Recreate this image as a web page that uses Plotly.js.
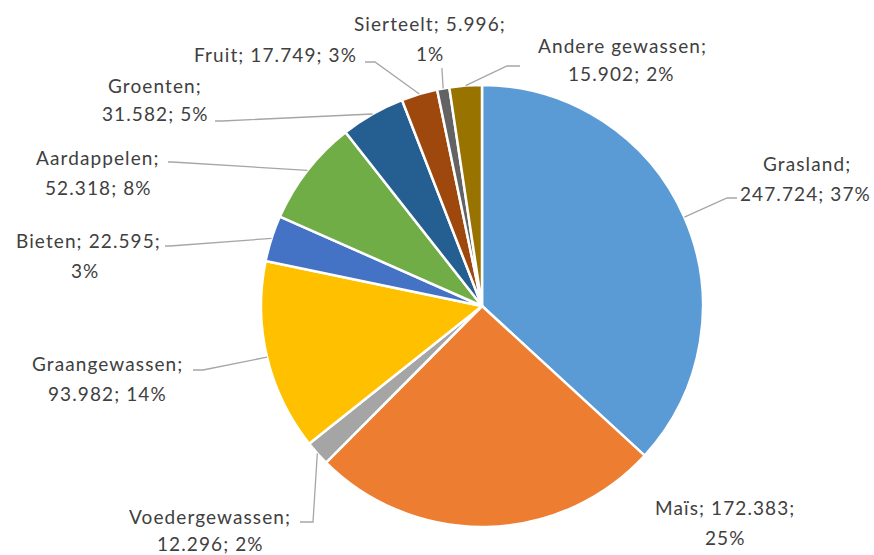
<!DOCTYPE html>
<html>
<head>
<meta charset="utf-8">
<script src="https://cdn.plot.ly/plotly-3.0.1.min.js"></script>
<style>html,body{margin:0;padding:0;background:#fff;}#chart{width:874px;height:555px;}
.annotation-text{letter-spacing:1.1px;}</style>
</head>
<body>
<div id="chart"></div>
<script>
// ---- data ----
var categories = ["Grasland", "Maïs", "Voedergewassen", "Graangewassen", "Bieten", "Aardappelen", "Groenten", "Fruit", "Sierteelt", "Andere gewassen"];
var areas = [247724, 172383, 12296, 93982, 22595, 52318, 31582, 17749, 5996, 15902];
var percentLabels = ["37%", "25%", "2%", "14%", "3%", "8%", "5%", "3%", "1%", "2%"];
var colors = ["#5B9BD5", "#ED7D31", "#A5A5A5", "#FFC000", "#4472C4", "#70AD47", "#255E91", "#9E480E", "#636363", "#997300"];

// ---- layout of labels (pixel positions, not data) ----
var W = 874, H = 555;
var CX = 482, CY = 306, R = 221;
// break: 1 = after name, 2 = after value, 0 = single line
var labelLayout = [
  {brk: 1, l1: [807, 163], l2: [805, 193], lead: [[737, 198], [727, 198]]},
  {brk: 2, l1: [725, 507], l2: [725, 537], lead: null},
  {brk: 1, l1: [210, 516], l2: [210, 543], lead: [[300, 522], [313, 522]]},
  {brk: 1, l1: [107, 363], l2: [107, 393], lead: [[193, 370], [203, 370]]},
  {brk: 2, l1: [88, 240], l2: [85, 270], lead: [[165, 246], [170, 246]]},
  {brk: 1, l1: [98, 157], l2: [98, 187], lead: [[168, 162], [172, 162]]},
  {brk: 1, l1: [155, 85], l2: [155, 113], lead: [[215, 121], [222, 121]]},
  {brk: 0, l1: [275, 55], l2: null, lead: [[365, 62], [375, 62]]},
  {brk: 2, l1: [430, 23], l2: [430, 53], lead: [[442, 68], [442, 70]]},
  {brk: 1, l1: [622, 45], l2: [621, 73], lead: [[520, 66], [507, 66]]}
];

function fmt(v) {
  var s = String(v);
  return s.replace(/\B(?=(\d{3})+(?!\d))/g, ".");
}
function px(x) { return x / W; }
function py(y) { return 1 - y / H; }

var total = areas.reduce(function (a, b) { return a + b; }, 0);

var annotations = [];
var shapes = [];
var cum = 0;
var font = {family: "Lato, 'Open Sans', sans-serif", size: 19, color: "#404040"};
for (var i = 0; i < categories.length; i++) {
  var mid = (cum + areas[i] / 2) / total * 2 * Math.PI;
  cum += areas[i];
  var parts = [categories[i] + ";", fmt(areas[i]) + ";", percentLabels[i]];
  var L = labelLayout[i];
  var t1, t2;
  if (L.brk === 0) { t1 = parts.join(" "); t2 = null; }
  else if (L.brk === 1) { t1 = parts[0]; t2 = parts[1] + " " + parts[2]; }
  else { t1 = parts[0] + " " + parts[1]; t2 = parts[2]; }
  annotations.push({xref: "paper", yref: "paper", x: px(L.l1[0]), y: py(L.l1[1]), text: t1, showarrow: false, xanchor: "center", yanchor: "middle", font: font});
  if (t2) annotations.push({xref: "paper", yref: "paper", x: px(L.l2[0]), y: py(L.l2[1]), text: t2, showarrow: false, xanchor: "center", yanchor: "middle", font: font});
  if (L.lead) {
    var ex = CX + R * Math.sin(mid), ey = CY - R * Math.cos(mid);
    var p = "M" + px(L.lead[0][0]) + "," + py(L.lead[0][1]) + " L" + px(L.lead[1][0]) + "," + py(L.lead[1][1]) + " L" + px(ex) + "," + py(ey);
    shapes.push({type: "path", xref: "paper", yref: "paper", path: p, line: {color: "#A6A6A6", width: 1.3}});
  }
}

var trace = {
  type: "pie",
  labels: categories,
  values: areas,
  sort: false,
  direction: "clockwise",
  rotation: 0,
  textinfo: "none",
  marker: {colors: colors, line: {color: "#FFFFFF", width: 2.5}},
  domain: {x: [(CX - R) / W, (CX + R) / W], y: [(H - CY - R) / H, (H - CY + R) / H]},
  hoverinfo: "label+value+percent"
};

var layout = {
  width: W, height: H,
  margin: {l: 0, r: 0, t: 0, b: 0},
  showlegend: false,
  paper_bgcolor: "#FFFFFF",
  annotations: annotations,
  shapes: shapes
};

Plotly.newPlot("chart", [trace], layout, {displayModeBar: false, staticPlot: true});
</script>
</body>
</html>
